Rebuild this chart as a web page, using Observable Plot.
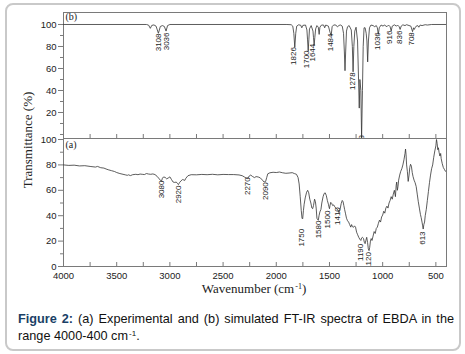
<!DOCTYPE html>
<html>
<head>
<meta charset="utf-8">
<script src="https://cdn.jsdelivr.net/npm/d3@7"></script>
<script src="https://cdn.jsdelivr.net/npm/@observablehq/plot@0.6"></script>
<style>
  html, body { margin: 0; padding: 0; background: #fff; }
  body { width: 465px; height: 354px; position: relative; overflow: hidden; font-family: "Liberation Sans", Arial, sans-serif; }
  #box { position: absolute; left: 5px; top: 3px; width: 452px; height: 344px; border: 2px solid #c9c9c9; border-radius: 8px; }
  #top, #bottom { position: absolute; left: 0; }
  #top { top: 0; }
  #bottom { top: 130px; }
  #ylabel { position: absolute; left: 28px; top: 140px; transform: translate(-50%, -50%) rotate(-90deg); white-space: nowrap;
            font-family: "Liberation Serif", "Times New Roman", serif; font-size: 13px; color: #222; }
  #xlabel { position: absolute; left: 254px; top: 289px; transform: translate(-50%, -50%); white-space: nowrap;
            font-family: "Liberation Serif", "Times New Roman", serif; font-size: 13px; color: #222; }
  #xlabel sup, #caption sup { font-size: 8px; vertical-align: 4px; line-height: 0; margin-left: 1px; }
  #caption { position: absolute; left: 18px; top: 311px; width: 436px; font-size: 12.7px; line-height: 17px; text-align: justify; color: #111; }
  #caption b { color: #1a3f66; }
</style>
</head>
<body>
<div id="box"></div>
<div id="top"></div>
<div id="bottom"></div>
<div id="ylabel">Transmittance (%)</div>
<div id="xlabel">Wavenumber (cm<sup>-1</sup>)</div>
<div id="caption"><b>Figure 2:</b> (a) Experimental and (b) simulated FT-IR spectra of EBDA in the range 4000-400 cm<sup>-1</sup>.</div>
<script>
// ---- (b) simulated spectrum ----
const simWavenumber = [4000,3220,3200,3184,3170,3150,3130,3108,3090,3070,3052,3036,3022,3000,1900,
  1860,1845,1835,1826,1817,1808,1790,1770,1760,1750,1725,1712,1706,1700,1694,1688,1672,
  1655,1650,1644,1638,1630,1618,1605,1597,1590,1575,1555,1545,1535,1510,1495,1484,1475,1460,
  1440,1425,1410,1395,1380,1368,1360,1354,1348,1340,1330,1315,1295,1285,1278,1271,1262,1250,
  1236,1228,1220,1214,1205,1198,1190,1183,1175,1165,1155,1148,1141,1134,1124,1110,1090,1075,1060,
  1050,1041,1032,1015,995,985,960,945,930,920,910,890,870,860,845,836,826,810,790,775,
  735,719,710,703,695,685,670,660,648,630,600,580,540,400];
const simTransmittance = [100,100,99.4,96.5,99.2,99.6,98.5,92,98.2,99,98.2,94,99,100,100,
  99.8,98.5,92,79,92,98.5,99.7,99.3,97,99.2,99.5,95,86,76,86,96,99,
  94,88,81,88,96,99,97.5,91,97.5,99.5,99.5,97,99.5,98.5,93,90,98,99.6,
  99.5,97.8,99.2,99.5,98.5,92,75,58,75,94,98,99,95,80,57,80,94,97.5,
  85,55,24,50,40,-3,40,80,97,97,92,85,66,85,97,99.5,99,98,99,
  97,91,97,99.5,98.5,99.6,98,99.5,98,94,98.5,99.7,98.5,99.5,98,95.5,98.5,99.7,99,99.8,
  98.5,93.5,97,95.5,97,98.5,99,97.5,99.5,99,99.8,99.5,100,100];
const simLabels = ["3108","3036","1826","1700","1644","1484","1278","1198","1036","916","836","708"];
const simLabelX = [3109,3036,1840,1713,1657,1488,1282,1195,1050,932,838,728];
const simLabelY = [91.8,92.7,79.4,76.4,82.5,91.8,56.6,-0.5,93,94.5,94.5,93];

// ---- (a) experimental spectrum ----
const expWavenumber = [4000,3950,3900,3850,3800,3750,3700,3680,3650,3620,3600,3580,3550,3520,3500,3470,3450,3420,3400,3390,3370,3350,3320,3300,3280,3260,3240,3220,3200,3180,3160,3140,3120,3100,3085,3080,3070,3060,3045,3030,3010,3000,2985,2970,2955,2940,2930,2920,2910,2895,2880,2860,2850,2830,2800,2750,2700,2650,2600,2550,2500,2450,2400,2350,2320,2300,2285,2270,2255,2240,2225,2205,2190,2170,2150,2130,2115,2100,2090,2080,2060,2030,2000,1970,1940,1910,1880,1850,1830,1810,1795,1785,1775,1765,1758,1752,1745,1738,1728,1715,1705,1695,1685,1675,1665,1658,1650,1640,1632,1625,1618,1612,1605,1598,1590,1580,1572,1560,1550,1540,1530,1520,1510,1505,1500,1495,1488,1480,1470,1460,1450,1440,1430,1420,1412,1405,1398,1390,1380,1372,1365,1358,1350,1340,1330,1320,1310,1300,1292,1285,1275,1265,1255,1245,1235,1225,1215,1205,1198,1190,1180,1172,1165,1158,1150,1142,1135,1128,1122,1115,1108,1100,1090,1080,1070,1060,1050,1040,1030,1020,1010,1000,990,980,970,960,950,940,930,920,910,900,890,880,873,868,862,856,850,840,830,820,810,800,790,785,780,775,768,760,752,745,738,730,722,715,705,695,685,675,665,655,645,638,630,624,619,613,606,600,590,580,570,560,550,540,530,520,510,500,494,488,482,476,470,462,455,450,440,430,420,410,400];
const expTransmittance = [80,79.6,79.8,79.2,79.4,78.8,78.3,78.8,77.8,77.5,76.8,76.2,75.5,74.8,74,73.2,72.8,72.2,71.8,72.2,71.6,72.3,72.6,72.3,72.8,72.6,72.4,73.2,72.8,72.6,72.9,72.4,71,69,67.5,67,69.5,70.5,70.2,69,70,70.6,68.5,66.5,66.2,66.5,65.5,64.5,66,67.5,68.5,67.8,69.5,71.5,72.3,72.2,72.5,72.3,72.6,72.2,72.5,72.4,72.4,72.1,71.5,70.5,69.8,69.2,71.2,72,71,70,70.8,70.5,69.8,68,66.5,67,70,73,73.8,74.2,74,74.4,73.8,73.4,73.6,73.9,73.2,72.6,70,65,55,44,38,37.5,44,49,54,58.5,60,58,53,50,46,45.5,48,53,51,46,38,37,36.5,40,43,45,50,55,57.5,58,56,52,49,47,45.5,48,50.5,49.8,48,48.5,47,46,45,44.5,42.5,43.5,46,49.5,52,51,48,45,42,38,36,35,33,31,33,31.5,30.8,32,31,27,25,23,21.5,20.5,22.5,23,22,19,18,20.5,23,19,14,12.5,15,20,22,20.5,24,27.5,26,30,31,34,36.5,35,39,40.5,43.5,42,46,47.5,46,50,52,55,53,57,60,55,64,66.5,60,63,68,72,75,77,80,84,89,92.5,88,80,75,67,72,78,80.5,79,74,71,68,66,63,57,51,46,41,38.5,35,32,29.5,33,35,40,45,52,59,66,72,77,80,86,91,95,100,97,92,93.5,90,87,89,85,81,78,76.5,75,74.5];
const expLabels = ["3080","2920","2270","2090","1750","1580","1500","1410","1190","1120","613"];
const expLabelX = [3080,2918,2270,2105,1767,1604,1516,1426,1213,1135,625];
const expLabelY = [67.7,63.8,70.3,66.4,29.7,36.2,44,46.7,17.9,11.3,27.6];

// ---- ticks ----
const xMajorTicks = [4000,3500,3000,2500,2000,1500,1000,500];
const xAllTicks = [4000,3750,3500,3250,3000,2750,2500,2250,2000,1750,1500,1250,1000,750,500];
const simYMajor = [20,40,60,80,100];
const simYMinor = [0,10,30,50,70,90];
const expYMajor = [0,20,40,60,80,100];
const expYMinor = [10,30,50,70,90];

const sim = simWavenumber.map((w, i) => ({w, t: simTransmittance[i]}));
const exp = expWavenumber.map((w, i) => ({w, t: expTransmittance[i]}));
const simLab = simLabels.map((s, i) => ({s, x: simLabelX[i], y: simLabelY[i]}));
const expLab = expLabels.map((s, i) => ({s, x: expLabelX[i], y: expLabelY[i]}));

const axisColor = "#7a7a7a";
const common = {
  width: 465, marginLeft: 63, marginRight: 19,
  x: {domain: [4000, 400], axis: null},
  style: {fontFamily: "'Liberation Sans', Arial, sans-serif", fontSize: "9.5px", color: "#222", background: "transparent", overflow: "visible"}
};
const blank = () => "";
const plain = d => String(d);

const topPlot = Plot.plot({
  ...common,
  height: 139, marginTop: 12, marginBottom: 1,
  y: {domain: [-3.64, 110.9], axis: null},
  marks: [
    Plot.axisY({ticks: simYMajor, tickSize: 5, tickPadding: 2, tickFormat: plain, label: null, stroke: axisColor}),
    Plot.axisY({ticks: simYMinor, tickSize: 3, tickFormat: blank, label: null, stroke: axisColor}),
    Plot.axisX({ticks: xAllTicks, tickSize: -4, tickFormat: blank, label: null, stroke: axisColor}),
    Plot.frame({stroke: axisColor, strokeWidth: 1}),
    Plot.line(sim, {x: "w", y: "t", stroke: "#333", strokeWidth: 0.8, clip: true}),
    Plot.text(simLab, {x: "x", y: "y", text: "s", rotate: -90, textAnchor: "end", fontSize: 8, fill: "#222", clip: true}),
    Plot.text(["(b)"], {frameAnchor: "top-left", dx: 2, dy: 0, lineAnchor: "top", text: d => d, fontFamily: "'Liberation Serif', serif", fontSize: 10})
  ]
});
document.getElementById("top").append(topPlot);

const bottomPlot = Plot.plot({
  ...common,
  height: 158, marginTop: 8, marginBottom: 22,
  y: {domain: [0, 100.8], axis: null},
  marks: [
    Plot.axisY({ticks: expYMajor, tickSize: 5, tickPadding: 2, tickFormat: plain, label: null, stroke: axisColor}),
    Plot.axisY({ticks: expYMinor, tickSize: 3, tickFormat: blank, label: null, stroke: axisColor}),
    Plot.axisX({ticks: xAllTicks, tickSize: -4, tickFormat: blank, label: null, stroke: axisColor}),
    Plot.axisX({ticks: xMajorTicks, tickSize: 0, tickPadding: 6, tickFormat: plain, label: null}),
    Plot.frame({stroke: axisColor, strokeWidth: 1}),
    Plot.line(exp, {x: "w", y: "t", stroke: "#333", strokeWidth: 0.8, clip: true}),
    Plot.text(expLab, {x: "x", y: "y", text: "s", rotate: -90, textAnchor: "end", fontSize: 8, fill: "#222", clip: true}),
    Plot.text(["(a)"], {frameAnchor: "top-left", dx: 2, dy: 2, lineAnchor: "top", text: d => d, fontFamily: "'Liberation Serif', serif", fontSize: 10})
  ]
});
document.getElementById("bottom").append(bottomPlot);
</script>
</body>
</html>
